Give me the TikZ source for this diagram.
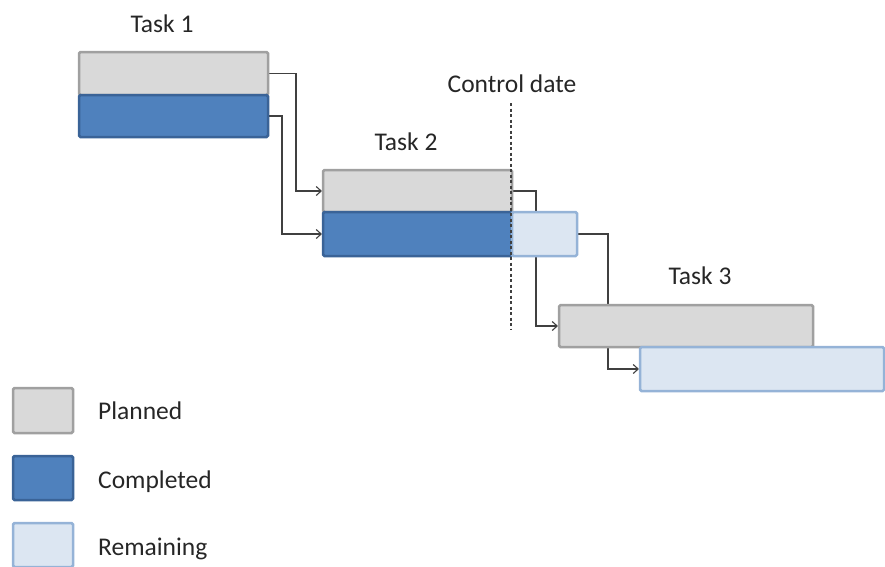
\documentclass[tikz,border=0pt]{standalone}
\usepackage{fontspec}
\setmainfont{Carlito}
\usetikzlibrary{arrows.meta,backgrounds}
\definecolor{plannedfill}{HTML}{D9D9D9}
\definecolor{plannededge}{HTML}{A0A0A0}
\definecolor{donefill}{HTML}{4F81BD}
\definecolor{doneedge}{HTML}{3A6397}
\definecolor{restfill}{HTML}{DCE6F2}
\definecolor{restedge}{HTML}{95B3D7}
\definecolor{linegray}{HTML}{404040}
\definecolor{textgray}{HTML}{262626}
\tikzset{
  bar/.style={rectangle, inner sep=0pt, outer sep=0pt, line width=2.5pt,
              rounded corners=1.5pt, anchor=north west},
  planned/.style={bar, fill=plannedfill, draw=plannededge},
  done/.style={bar, fill=donefill, draw=doneedge},
  rest/.style={bar, fill=restfill, draw=restedge},
  conn/.style={draw=linegray, line width=1.3pt,
               -{Straight Barb[length=5pt,width=9pt,line width=1.1pt]}, shorten >=1pt},
  label/.style={anchor=base, text=textgray, inner sep=0pt,
                font=\fontsize{25.5}{30}\selectfont},
  legendtext/.style={label, anchor=base west}
}
\begin{document}
\begin{tikzpicture}[x=1pt,y=-1pt]
\useasboundingbox (0,0) rectangle (885,566);

% Task 1
\node[planned, minimum width=189pt, minimum height=43pt] (p1) at (79,52) {};
\node[done, minimum width=189pt, minimum height=42pt] (c1) at (79,95) {};
\node[label] (t1) at (162,32) {Task 1};

% Task 2
\node[planned, minimum width=189pt, minimum height=42pt] (p2) at (323,170) {};
\node[done, minimum width=189pt, minimum height=44pt] (c2) at (323,212) {};
\node[rest, minimum width=65pt, minimum height=44pt] (r2) at (512,212) {};
\node[label] (t2) at (406,150) {Task 2};

% Task 3
\node[planned, minimum width=254pt, minimum height=42pt] (p3) at (559,305) {};
\node[rest, minimum width=244pt, minimum height=44pt] (r3) at (640,347) {};
\node[label] (t3) at (700,284) {Task 3};

% Dependencies run behind the bars
\begin{scope}[on background layer]
\draw[conn] (p1.east) -- ++(28,0) |- (p2.west);
\draw[conn] (c1.east) -- ++(14,0) |- (c2.west);
\draw[conn] (p2.east) -- ++(24,0) |- (p3.west);
\draw[conn] (r2.east) -- ++(31,0) |- (r3.west);
\end{scope}

% Control date
\node[label] (cd) at (512,92) {Control date};
\coordinate (cdtop) at (511,103);
\coordinate (cdbot) at (511,330);
\draw[linegray, line width=1.5pt, dash pattern=on 3pt off 2.5pt] (cdtop) -- (cdbot);

% Legend
\node[planned, minimum width=60pt, minimum height=45pt] (lp) at (13,388) {};
\node[done, minimum width=60pt, minimum height=44pt] (lc) at (13,456) {};
\node[rest, minimum width=60pt, minimum height=44pt] (lr) at (13,523) {};
\node[legendtext] (lpt) at (98,419) {Planned};
\node[legendtext] (lct) at (98,488) {Completed};
\node[legendtext] (lrt) at (98,555) {Remaining};
\end{tikzpicture}
\end{document}
